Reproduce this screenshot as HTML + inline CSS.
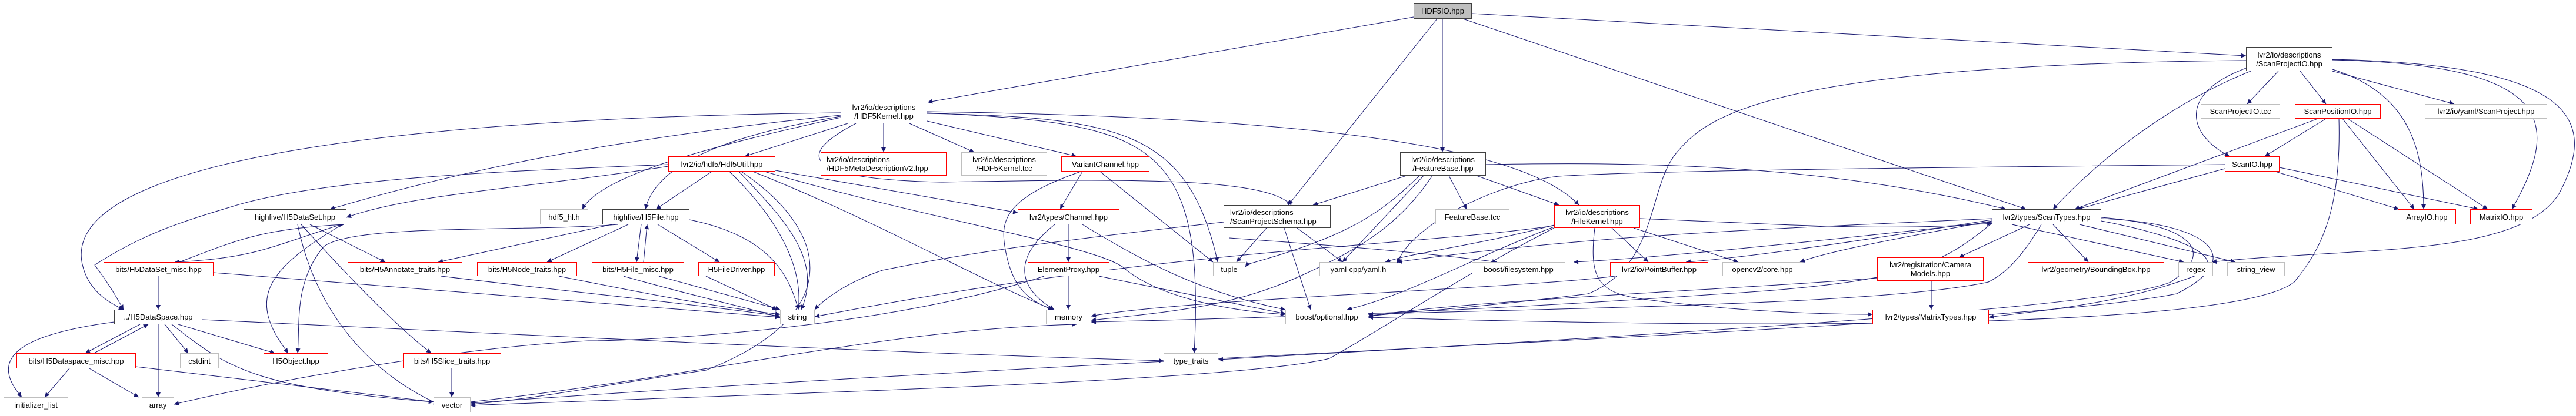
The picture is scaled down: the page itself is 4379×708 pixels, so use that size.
<!DOCTYPE html>
<html><head><meta charset="utf-8"><style>
html,body{margin:0;padding:0;background:#fff}
#c{position:relative;width:4379px;height:708px;overflow:hidden;font-family:"Liberation Sans",sans-serif;font-size:13px;color:#000}
.n{position:absolute;box-sizing:border-box;background:#fff;border:1px solid #bfbfbf;display:flex;align-items:center;justify-content:center;text-align:center;line-height:15px;white-space:nowrap}
.b{border:1.5px solid #404040}
.r{border:1.5px solid #ff0000}
.g{border:1.5px solid #bfbfbf}
svg{position:absolute;left:0;top:0}
</style></head><body><div id="c">
<svg width="4379" height="708" viewBox="0 0 4379 708">
<defs><marker id="a" viewBox="0 0 10 10" refX="10" refY="5" markerWidth="10" markerHeight="8" markerUnits="userSpaceOnUse" orient="auto"><path d="M0,0L10,5L0,10z" fill="#191970"/></marker></defs>
<g fill="none" stroke="#191970" stroke-width="1" marker-end="url(#a)">
<!-- HDF5IO -->
<path d="M2403,29 L1577,174"/>
<path d="M2452,32 L2452,259"/>
<path d="M2443,32 L2190,349"/>
<path d="M2487,32 L3444,356"/>
<path d="M2502,23 L3818,95"/>
<!-- HDF5Kernel -->
<path d="M1429,192 C700,200 100,270 140,450 C150,495 185,515 210,527"/>
<path d="M1429,196 C1000,240 750,300 561,356"/>
<path d="M1429,198 C1300,220 1120,260 1097,356"/>
<path d="M1429,200 C1200,250 1020,300 990,356"/>
<path d="M1441,210 L1266,266"/>
<path d="M1502,210 L1502,259"/>
<path d="M1546,210 L1656,259"/>
<path d="M1576,206 L1830,266"/>
<path d="M1576,193 C1900,200 2020,220 2070,446"/>
<path d="M1576,192 C1950,210 2050,230 2030,601"/>
<path d="M1576,190 C2300,200 2600,260 2684,349"/>
<path d="M1455,210 C1340,270 1380,305 1600,310 C1900,305 2150,300 2195,349"/>
<!-- Hdf5Util -->
<path d="M1210,292 L1115,356"/>
<path d="M1136,283 C900,320 700,330 589,370"/>
<path d="M1136,280 C900,290 560,300 393,352 C300,380 240,400 161,451 C190,490 200,510 210,527"/>
<path d="M1240,292 C1330,380 1365,460 1357,527"/>
<path d="M1256,292 C1330,370 1400,440 1362,527"/>
<path d="M1280,292 C1500,380 1650,470 1790,527"/>
<path d="M1260,292 C1420,400 1430,540 1200,630 C1000,660 900,680 800,688"/>
<path d="M1318,290 L1730,362"/>
<path d="M1300,292 C1600,380 1880,420 1915,460 C1980,510 2100,530 2185,535"/>
<!-- H5DataSet -->
<path d="M580,382 C460,420 430,440 297,446"/>
<path d="M305,446 C400,410 440,390 585,382"/>
<path d="M582,382 C450,460 420,510 490,601"/>
<path d="M527,382 L655,446"/>
<path d="M506,382 C530,500 600,620 745,688"/>
<path d="M512,382 C600,480 680,560 733,601"/>
<!-- H5DataSet_misc -->
<path d="M269,470 L269,527"/>
<path d="M363,464 L1326,540"/>
<!-- H5DataSpace -->
<path d="M238,552 L145,601"/>
<path d="M160,601 L252,552"/>
<path d="M194,548 C30,570 -20,610 37,676"/>
<path d="M269,552 L269,676"/>
<path d="M280,552 L320,601"/>
<path d="M303,552 L467,601"/>
<path d="M292,552 C380,620 420,660 737,684"/>
<path d="M344,544 C1000,575 1500,600 1978,614"/>
<!-- H5Dataspace_misc -->
<path d="M118,627 L76,676"/>
<path d="M152,627 L236,676"/>
<path d="M231,624 L737,684"/>
<path d="M800,684 C1200,640 1500,560 1830,552"/>
<!-- H5Slice -->
<path d="M768,627 L768,676"/>
<!-- H5File -->
<path d="M1050,382 C900,395 600,380 550,420 C500,480 510,550 506,601"/>
<path d="M1040,382 L745,446"/>
<path d="M1068,382 L930,446"/>
<path d="M1090,382 L1082,446"/>
<path d="M1094,446 L1100,382"/>
<path d="M1118,382 L1223,446"/>
<path d="M1172,374 C1300,400 1340,460 1357,527"/>
<!-- traits -> string -->
<path d="M750,470 C1000,500 1200,520 1326,538"/>
<path d="M950,470 C1100,500 1200,520 1326,535"/>
<path d="M1120,470 L1326,527"/>
<path d="M1060,470 C1200,510 1300,530 1326,541"/>
<path d="M1200,470 L1321,527"/>
<!-- VariantChannel -->
<path d="M1840,292 L1802,356"/>
<path d="M1870,292 L2062,446"/>
<path d="M1837,292 C1700,340 1700,380 1710,430 C1720,480 1740,510 1790,527"/>
<!-- Channel -->
<path d="M1816,382 L1816,446"/>
<path d="M1793,382 C1720,440 1730,490 1792,527"/>
<path d="M1840,382 C1950,450 2050,500 2185,527"/>
<!-- ElementProxy -->
<path d="M1816,470 L1816,527"/>
<path d="M1775,470 C1500,560 1100,580 1000,580 C800,590 500,640 296,688"/>
<path d="M1868,470 L2185,534"/>
<!-- ScanProjectSchema -->
<path d="M2080,378 C1700,420 1600,440 1500,460 C1440,480 1400,510 1385,527"/>
<path d="M2153,388 L2102,446"/>
<path d="M2205,388 L2282,446"/>
<path d="M2183,388 L2228,527"/>
<!-- FeatureBase -->
<path d="M2391,299 L2232,349"/>
<path d="M2463,299 L2493,356"/>
<path d="M2510,299 L2650,349"/>
<path d="M2413,299 C2350,360 2300,400 2120,450 L2117,454"/>
<path d="M2435,299 C2380,380 2320,420 2210,470 C2100,520 2000,530 1855,545"/>
<path d="M2526,280 C2800,275 3100,280 3410,356"/>
<path d="M2090,405 C2300,420 2420,430 2545,446"/>
<path d="M2420,299 L2282,446"/>
<!-- FileKernel -->
<path d="M2642,383 C2500,420 2400,430 2355,446"/>
<path d="M2740,388 L2802,446"/>
<path d="M2777,388 L2955,446"/>
<path d="M2642,386 C2500,440 2400,500 2290,527"/>
<path d="M2642,384 C2400,420 2000,420 1385,539"/>
<path d="M2642,388 C2500,460 2350,560 2260,610 C2100,650 1300,670 800,690"/>
<path d="M2711,388 C2700,480 2720,500 2800,510 C2950,530 3100,535 3183,535"/>
<path d="M2788,372 C3000,380 3200,395 3386,380"/>
<!-- PointBuffer -->
<path d="M2745,470 C2600,490 2000,510 1855,538"/>
<!-- CameraModels -->
<path d="M3283,478 L3283,527"/>
<path d="M3191,473 C3000,490 2500,510 2326,538"/>
<!-- ScanTypes -->
<path d="M3450,382 L3330,438"/>
<path d="M3490,382 L3550,446"/>
<path d="M3420,382 L3712,446"/>
<path d="M3535,382 L3800,446"/>
<path d="M3386,378 C3000,420 2800,440 2675,446"/>
<path d="M3386,374 C3100,420 2950,440 2866,446"/>
<path d="M3386,376 C3200,410 3100,430 3060,446"/>
<path d="M3386,372 C3000,390 2700,400 2375,446"/>
<path d="M3470,382 C3430,450 3400,470 3380,480 C3200,520 2600,525 2326,535"/>
<path d="M3572,376 C3700,400 3800,440 3730,470 C3600,520 3450,530 3381,540"/>
<path d="M3386,380 C3300,450 3250,480 2930,500 C2500,530 2200,540 1855,548"/>
<path d="M3572,370 C3700,380 3780,420 3690,480 C3600,520 3000,560 2071,612"/>
<path d="M3572,372 C3760,380 3820,440 3700,500 C3400,560 2000,600 800,686"/>
<!-- ScanProjectIO -->
<path d="M3873,121 L3820,177"/>
<path d="M3910,121 L3954,177"/>
<path d="M3965,121 L4172,177"/>
<path d="M3818,116 C3700,160 3720,230 3790,266"/>
<path d="M3826,121 C3680,180 3560,280 3490,356"/>
<path d="M3965,118 C4100,160 4120,260 4120,356"/>
<path d="M3965,102 C4330,110 4360,200 4270,356"/>
<path d="M3965,101 C4370,110 4420,200 4350,330 C4280,440 4000,420 3760,446"/>
<path d="M3818,103 C3000,110 2900,200 2850,260 C2800,320 2820,450 2700,500 C2500,525 2400,530 2326,538"/>
<!-- ScanPositionIO -->
<path d="M3954,202 L3850,266"/>
<path d="M3940,202 L3527,356"/>
<path d="M3982,202 L4104,356"/>
<path d="M3991,202 L4229,356"/>
<path d="M3976,202 C3980,350 3950,420 3900,480 C3800,560 3000,560 2326,540"/>
<!-- ScanIO -->
<path d="M3782,287 L3532,356"/>
<path d="M3868,292 L4078,356"/>
<path d="M3875,285 L4213,356"/>
<path d="M3782,280 C3300,285 2800,290 2650,300 C2550,310 2400,380 2375,448"/>
</g></svg>

<div class="n" style="left:2403px;top:5px;width:99px;height:27px;background:#bfbfbf;border:1.5px solid #404040">HDF5IO.hpp</div>
<div class="n b" style="left:1429px;top:170px;width:147px;height:40px">lvr2/io/descriptions<br>/HDF5Kernel.hpp</div>
<div class="n b" style="left:3818px;top:80px;width:147px;height:41px">lvr2/io/descriptions<br>/ScanProjectIO.hpp</div>
<div class="n b" style="left:2380px;top:259px;width:146px;height:40px">lvr2/io/descriptions<br>/FeatureBase.hpp</div>
<div class="n r" style="left:1136px;top:266px;width:182px;height:26px">lvr2/io/hdf5/Hdf5Util.hpp</div>
<div class="n r" style="left:1395px;top:259px;width:214px;height:40px;justify-content:flex-start;text-align:left;padding-left:9px">lvr2/io/descriptions<br>/HDF5MetaDescriptionV2.hpp</div>
<div class="n g" style="left:1634px;top:259px;width:146px;height:40px">lvr2/io/descriptions<br>/HDF5Kernel.tcc</div>
<div class="n r" style="left:1804px;top:266px;width:150px;height:26px">VariantChannel.hpp</div>
<div class="n g" style="left:3741px;top:177px;width:135px;height:25px">ScanProjectIO.tcc</div>
<div class="n r" style="left:3901px;top:177px;width:146px;height:25px">ScanPositionIO.hpp</div>
<div class="n g" style="left:4122px;top:177px;width:208px;height:25px">lvr2/io/yaml/ScanProject.hpp</div>
<div class="n r" style="left:3782px;top:266px;width:93px;height:26px">ScanIO.hpp</div>
<div class="n b" style="left:414px;top:356px;width:175px;height:26px">highfive/H5DataSet.hpp</div>
<div class="n g" style="left:918px;top:356px;width:82px;height:26px">hdf5_hl.h</div>
<div class="n b" style="left:1024px;top:356px;width:148px;height:26px">highfive/H5File.hpp</div>
<div class="n r" style="left:1730px;top:356px;width:173px;height:26px">lvr2/types/Channel.hpp</div>
<div class="n b" style="left:2080px;top:349px;width:182px;height:39px;justify-content:flex-start;text-align:left;padding-left:10px">lvr2/io/descriptions<br>/ScanProjectSchema.hpp</div>
<div class="n g" style="left:2440px;top:356px;width:126px;height:26px">FeatureBase.tcc</div>
<div class="n r" style="left:2642px;top:349px;width:146px;height:39px">lvr2/io/descriptions<br>/FileKernel.hpp</div>
<div class="n b" style="left:3386px;top:356px;width:186px;height:26px">lvr2/types/ScanTypes.hpp</div>
<div class="n r" style="left:4076px;top:356px;width:99px;height:26px">ArrayIO.hpp</div>
<div class="n r" style="left:4199px;top:356px;width:106px;height:26px">MatrixIO.hpp</div>
<div class="n r" style="left:176px;top:446px;width:187px;height:24px">bits/H5DataSet_misc.hpp</div>
<div class="n r" style="left:591px;top:446px;width:195px;height:24px">bits/H5Annotate_traits.hpp</div>
<div class="n r" style="left:811px;top:446px;width:170px;height:24px">bits/H5Node_traits.hpp</div>
<div class="n r" style="left:1006px;top:446px;width:157px;height:24px">bits/H5File_misc.hpp</div>
<div class="n r" style="left:1187px;top:446px;width:130px;height:24px">H5FileDriver.hpp</div>
<div class="n r" style="left:1747px;top:446px;width:139px;height:24px">ElementProxy.hpp</div>
<div class="n g" style="left:2062px;top:446px;width:55px;height:24px">tuple</div>
<div class="n g" style="left:2243px;top:446px;width:132px;height:24px">yaml-cpp/yaml.h</div>
<div class="n g" style="left:2502px;top:446px;width:159px;height:24px">boost/filesystem.hpp</div>
<div class="n r" style="left:2737px;top:446px;width:167px;height:24px">lvr2/io/PointBuffer.hpp</div>
<div class="n g" style="left:2928px;top:446px;width:136px;height:24px">opencv2/core.hpp</div>
<div class="n r" style="left:3191px;top:438px;width:181px;height:40px">lvr2/registration/Camera<br>Models.hpp</div>
<div class="n r" style="left:3447px;top:446px;width:232px;height:24px">lvr2/geometry/BoundingBox.hpp</div>
<div class="n g" style="left:3703px;top:446px;width:59px;height:24px">regex</div>
<div class="n g" style="left:3786px;top:446px;width:98px;height:24px">string_view</div>
<div class="n b" style="left:194px;top:527px;width:150px;height:25px">../H5DataSpace.hpp</div>
<div class="n g" style="left:1326px;top:527px;width:59px;height:25px">string</div>
<div class="n g" style="left:1778px;top:527px;width:77px;height:25px">memory</div>
<div class="n g" style="left:2185px;top:527px;width:141px;height:25px">boost/optional.hpp</div>
<div class="n r" style="left:3183px;top:527px;width:198px;height:25px">lvr2/types/MatrixTypes.hpp</div>
<div class="n r" style="left:28px;top:601px;width:203px;height:26px">bits/H5Dataspace_misc.hpp</div>
<div class="n g" style="left:306px;top:601px;width:66px;height:26px">cstdint</div>
<div class="n r" style="left:448px;top:601px;width:110px;height:26px">H5Object.hpp</div>
<div class="n r" style="left:685px;top:601px;width:167px;height:26px">bits/H5Slice_traits.hpp</div>
<div class="n g" style="left:1978px;top:601px;width:93px;height:26px">type_traits</div>
<div class="n g" style="left:6px;top:676px;width:110px;height:26px">initializer_list</div>
<div class="n g" style="left:241px;top:676px;width:55px;height:26px">array</div>
<div class="n g" style="left:737px;top:676px;width:63px;height:26px">vector</div>
</div></body></html>
